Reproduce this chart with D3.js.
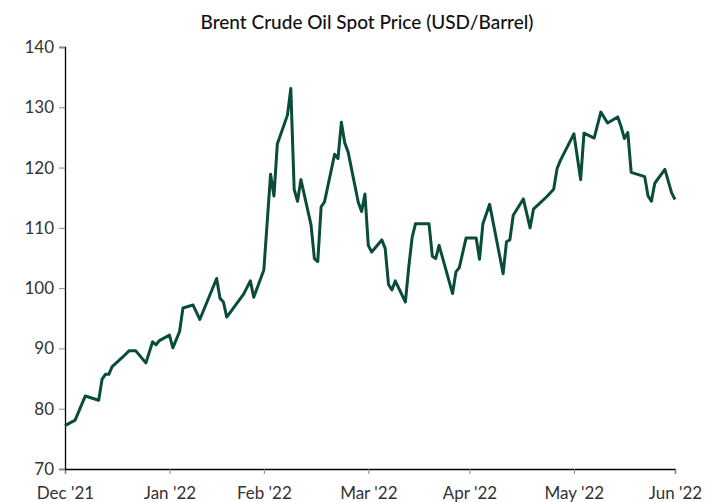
<!DOCTYPE html>
<html lang="en">
	<head>
		<meta charset="utf-8">
		<title>Brent Crude Oil Spot Price</title>
		<script type="text/javascript" src="https://cdn.jsdelivr.net/npm/d3@7"></script>
		<style type="text/css">
			body { margin: 0; background: #fff; }
			.tick text { font-family: Lato, sans-serif; font-size: 17px; fill: #333; }
		</style>
	</head>
	<body>
		<script type="text/javascript">

			// trading days
			var dates = [
				"2022-01-01","2022-01-04","2022-01-07","2022-01-11","2022-01-12","2022-01-13","2022-01-14","2022-01-15",
				"2022-01-18","2022-01-20","2022-01-22","2022-01-25","2022-01-27","2022-01-28","2022-01-29","2022-02-01",
				"2022-02-02","2022-02-04","2022-02-05","2022-02-08","2022-02-10","2022-02-15","2022-02-16","2022-02-17",
				"2022-02-18","2022-02-23","2022-02-25","2022-02-26","2022-03-01","2022-03-03","2022-03-04","2022-03-05",
				"2022-03-08","2022-03-09","2022-03-10","2022-03-11","2022-03-12","2022-03-15","2022-03-16","2022-03-17",
				"2022-03-18","2022-03-19","2022-03-22","2022-03-23","2022-03-24","2022-03-25","2022-03-26","2022-03-29",
				"2022-03-30","2022-03-31","2022-04-01","2022-04-02","2022-04-05","2022-04-06","2022-04-07","2022-04-08",
				"2022-04-09","2022-04-12","2022-04-13","2022-04-14","2022-04-15","2022-04-19","2022-04-20","2022-04-21",
				"2022-04-22","2022-04-26","2022-04-27","2022-04-28","2022-04-30","2022-05-03","2022-05-04","2022-05-05",
				"2022-05-07","2022-05-11","2022-05-12","2022-05-13","2022-05-14","2022-05-17","2022-05-19","2022-05-20",
				"2022-05-24","2022-05-26","2022-05-27","2022-05-28","2022-06-01","2022-06-03","2022-06-04","2022-06-07",
				"2022-06-09","2022-06-11","2022-06-14","2022-06-15","2022-06-16","2022-06-17","2022-06-18","2022-06-22",
				"2022-06-23","2022-06-24","2022-06-25","2022-06-28","2022-06-30","2022-07-01"
			];

			var prices = [
				77.2, 78.1, 82.1, 81.4, 84.9, 85.7, 85.7, 87.0,
				88.5, 89.6, 89.6, 87.6, 91.1, 90.6, 91.3, 92.2,
				90.1, 92.8, 96.7, 97.2, 94.8, 101.6, 98.3, 97.7,
				95.2, 99.0, 101.2, 98.5, 103.0, 118.9, 115.3, 123.9,
				128.7, 133.1, 116.4, 114.4, 118.0, 110.5, 104.9, 104.4,
				113.5, 114.3, 122.2, 121.5, 127.5, 124.1, 122.6, 114.3,
				112.7, 115.6, 107.1, 106.0, 108.0, 106.6, 100.6, 99.7,
				101.2, 97.7, 103.5, 108.4, 110.7, 110.7, 105.3, 104.9,
				107.1, 99.1, 102.7, 103.4, 108.3, 108.3, 104.8, 110.7,
				113.9, 102.4, 107.7, 108.0, 112.1, 114.8, 110.0, 113.1,
				115.2, 116.4, 119.8, 121.2, 125.6, 118.0, 125.7, 124.9,
				129.2, 127.4, 128.4, 126.8, 124.8, 125.8, 119.2, 118.5,
				115.3, 114.4, 117.4, 119.7, 115.8, 114.7
			];

			var monthLabels = ["Dec '21", "Jan '22", "Feb '22", "Mar '22", "Apr '22", "May '22", "Jun '22"];
			var yTicks = [70, 80, 90, 100, 110, 120, 130, 140];

			var w = 718, h = 502;
			var margin = {top: 47, right: 43, bottom: 33, left: 65};

			var parse = d3.timeParse("%Y-%m-%d");
			var data = dates.map(function(d, i) { return {date: parse(d), value: prices[i]}; });

			var start = new Date(2022, 0, 1), end = new Date(2022, 6, 1);

			var xScale = d3.scaleTime()
				.domain([start, end])
				.range([margin.left, w - margin.right]);

			var yScale = d3.scaleLinear()
				.domain([70, 140])
				.range([h - margin.bottom, margin.top]);

			var svg = d3.select("body")
				.append("svg")
				.attr("width", w)
				.attr("height", h);

			svg.append("text")
				.attr("x", 367)
				.attr("y", 29)
				.attr("text-anchor", "middle")
				.attr("font-family", "Lato, sans-serif")
				.attr("font-size", "19px")
				.attr("font-weight", 500)
				.attr("fill", "#111")
				.text("Brent Crude Oil Spot Price (USD/Barrel)");

			var monthTicks = d3.timeMonth.range(start, d3.timeDay.offset(end, 1));

			var xAxis = svg.append("g")
				.attr("transform", "translate(0," + (h - margin.bottom) + ")")
				.call(d3.axisBottom(xScale)
					.tickValues(monthTicks)
					.tickFormat(function(d, i) { return monthLabels[i]; })
					.tickSize(5)
					.tickPadding(10));

			var yAxis = svg.append("g")
				.attr("transform", "translate(" + margin.left + ",0)")
				.call(d3.axisLeft(yScale)
					.tickValues(yTicks)
					.tickSize(6)
					.tickPadding(5));

			svg.selectAll(".domain").attr("stroke", "#000").attr("stroke-width", 1.3);
			svg.selectAll(".tick line").attr("stroke", "#888");
			xAxis.selectAll(".tick text").attr("dy", "0.9em");

			var line = d3.line()
				.x(function(d) { return xScale(d.date); })
				.y(function(d) { return yScale(d.value); });

			svg.append("path")
				.datum(data)
				.attr("d", line)
				.attr("fill", "none")
				.attr("stroke", "#0a4c3a")
				.attr("stroke-width", 3)
				.attr("stroke-linejoin", "round");

		</script>
	</body>
</html>
